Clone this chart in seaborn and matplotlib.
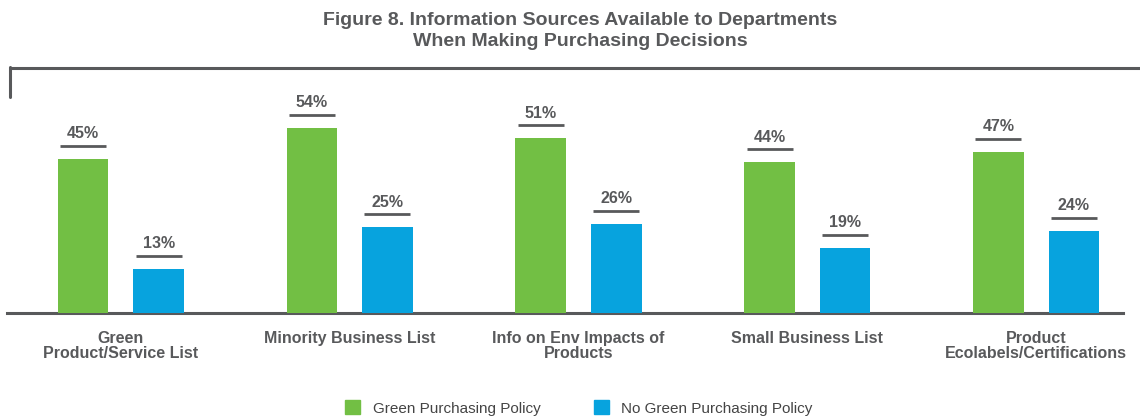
import pandas as pd
import seaborn as sns
import matplotlib.pyplot as plt
from matplotlib.lines import Line2D

# data
categories = ['Green\nProduct/Service List', 'Minority Business List',
              'Info on Env Impacts of\nProducts', 'Small Business List',
              'Product\nEcolabels/Certifications']
series_names = ['Green Purchasing Policy', 'No Green Purchasing Policy']
green_policy = [45, 54, 51, 44, 47]
no_green_policy = [13, 25, 26, 19, 24]

df = pd.DataFrame({
    'Source': categories * 2,
    'Policy': [series_names[0]] * len(categories) + [series_names[1]] * len(categories),
    'Pct': green_policy + no_green_policy,
})

sns.set_style('white')
plt.rcParams['font.family'] = ['Liberation Sans', 'DejaVu Sans']
gray = '#58595b'
colors = ['#72bf44', '#07a3de']

fig = plt.figure(figsize=(11.4, 4.2), dpi=100)
ax = fig.add_axes([7 / 1140, 107 / 420, 1116 / 1140, 245 / 420])

sns.barplot(data=df, x='Source', y='Pct', hue='Policy', palette=colors,
            saturation=1, width=0.66, gap=0.33, linewidth=0, ax=ax,
            legend=True, zorder=1)

ax.set_xlim(-0.498, 4.38)
ax.set_ylim(0, 71.6)
ax.set_xlabel('')
ax.set_ylabel('')
ax.set_yticks([])
for s in ['top', 'right', 'left']:
    ax.spines[s].set_visible(False)
ax.spines['bottom'].set_color(gray)
ax.spines['bottom'].set_linewidth(2.2)
ax.spines['bottom'].set_zorder(0)
ax.tick_params(axis='x', length=0, pad=13)
for lbl in ax.get_xticklabels():
    lbl.set_fontweight('bold')
    lbl.set_color(gray)
    lbl.set_fontsize(11.5)
    lbl.set_linespacing(1.0)

# value labels with a short rule underneath
for p in ax.patches:
    h = p.get_height()
    if h <= 0:
        continue
    x0, w = p.get_x(), p.get_width()
    ax.plot([x0 + 0.01, x0 + w - 0.01], [h + 3.8, h + 3.8], color=gray,
            lw=2.0, solid_capstyle='butt', clip_on=False)
    ax.text(x0 + w / 2, h + 5.2, f'{h:.0f}%', ha='center', va='bottom',
            fontsize=11.5, fontweight='bold', color=gray)

# legend at the bottom
handles = [plt.Rectangle((0, 0), 1, 1, color=c) for c in colors]
ax.legend(handles, series_names, loc='center', bbox_to_anchor=(579 / 1140, 12 / 420),
          bbox_transform=fig.transFigure, ncol=2, frameon=False, fontsize=11,
          handlelength=1.0, handleheight=1.0, handletextpad=0.8, columnspacing=3.5,
          labelcolor='#444444')

# frame line across the top
fig.add_artist(Line2D([10 / 1140, 1.0], [1 - 68 / 420, 1 - 68 / 420],
                      color=gray, lw=2.2, transform=fig.transFigure))
fig.add_artist(Line2D([10 / 1140, 10 / 1140], [1 - 67 / 420, 1 - 97 / 420],
                      color=gray, lw=2.2, transform=fig.transFigure))

fig.text(580 / 1140, 1 - 31 / 420,
         'Figure 8. Information Sources Available to Departments\nWhen Making Purchasing Decisions',
         ha='center', va='center', fontsize=14, fontweight='bold', color=gray,
         linespacing=1.3)

fig.savefig('out.png', dpi=100)
